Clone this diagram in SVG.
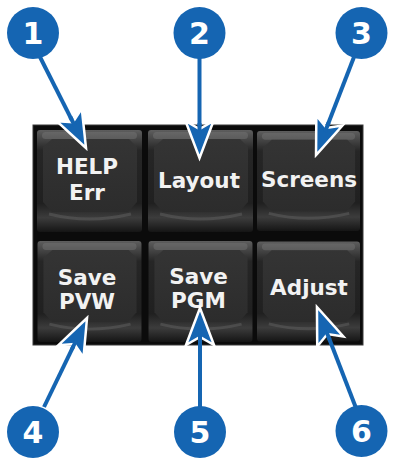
<svg xmlns="http://www.w3.org/2000/svg" width="394" height="465" viewBox="0 0 394 465">
<style>
.lbl{font-family:"DejaVu Sans","Liberation Sans",sans-serif;font-weight:bold;font-size:21.5px;fill:#f2f2f2;text-anchor:middle}
.num{font-family:"DejaVu Sans","Liberation Sans",sans-serif;font-weight:bold;font-size:30px;fill:#ffffff;text-anchor:middle}
.callout{fill:#1565b2}
.conn{stroke:#1565b2;stroke-width:4;fill:none;marker-end:url(#ah)}
</style>
<defs>
<linearGradient id="kOuter" x1="0" y1="0" x2="0" y2="1">
<stop offset="0" stop-color="#5e5e5e"/>
<stop offset="0.08" stop-color="#484848"/>
<stop offset="0.2" stop-color="#262626"/>
<stop offset="0.72" stop-color="#202020"/>
<stop offset="0.86" stop-color="#3c3c3c"/>
<stop offset="1" stop-color="#151515"/>
</linearGradient>
<linearGradient id="kFace" x1="0" y1="0" x2="0" y2="1">
<stop offset="0" stop-color="#343434"/>
<stop offset="1" stop-color="#2c2c2c"/>
</linearGradient>
<symbol id="keycap" viewBox="0 0 105 102">
<rect x="0" y="0" width="105" height="102" rx="3" fill="url(#kOuter)"/>
<rect x="5" y="2" width="95" height="7" rx="3.5" fill="#777" opacity="0.45"/>
<path d="M15,9 H92 L100,17 V72 L91,82 H15 L6,72 V17 Z" fill="url(#kFace)"/>
<path d="M12,84 Q52,94 94,84" stroke="#5a5a5a" stroke-width="3" fill="none" opacity="0.6"/>
</symbol>
<marker id="ah" markerUnits="userSpaceOnUse" viewBox="-12 -18 46 36" markerWidth="46" markerHeight="36" refX="0" refY="0" orient="auto" overflow="visible">
<path d="M29,0 L-8,-14 L0,0 L-8,14 Z" fill="#1565b2" stroke="#ffffff" stroke-width="2.5" stroke-linejoin="miter"/>
<rect x="-6" y="-2" width="10" height="4" fill="#1565b2"/>
</marker>
</defs>

<g id="panel">
<rect x="33" y="125" width="330" height="220" fill="#0b0b0b" stroke="#3a3a3a" stroke-width="1"/>
</g>

<g id="key-help">
<use href="#keycap" x="37" y="129" width="105" height="104"/>
<text class="lbl" x="87" y="174">HELP</text>
<text class="lbl" x="87" y="200">Err</text>
</g>
<g id="key-layout">
<use href="#keycap" x="148" y="129" width="105" height="104"/>
<text class="lbl" x="199" y="188">Layout</text>
</g>
<g id="key-screens">
<use href="#keycap" x="257" y="129" width="103" height="104"/>
<text class="lbl" x="309" y="187">Screens</text>
</g>
<g id="key-savepvw">
<use href="#keycap" x="37" y="241" width="105" height="101"/>
<text class="lbl" x="87" y="285">Save</text>
<text class="lbl" x="87" y="309">PVW</text>
</g>
<g id="key-savepgm">
<use href="#keycap" x="148" y="241" width="105" height="101"/>
<text class="lbl" x="198.5" y="284">Save</text>
<text class="lbl" x="198.5" y="308">PGM</text>
</g>
<g id="key-adjust">
<use href="#keycap" x="257" y="241" width="103" height="101"/>
<text class="lbl" x="309" y="295">Adjust</text>
</g>

<g id="connectors">
<path class="conn" d="M40,57 L72.9,122.1"/>
<path class="conn" d="M199.5,58 L199.5,129"/>
<path class="conn" d="M354,57 L326.5,128"/>
<path class="conn" d="M44,407 L74.4,344.1"/>
<path class="conn" d="M200,407 L200,337"/>
<path class="conn" d="M356,408 L327.4,334"/>
</g>

<g id="callout-1"><circle class="callout" cx="33" cy="33" r="26"/><text class="num" x="33" y="44">1</text></g>
<g id="callout-2"><circle class="callout" cx="199.5" cy="33" r="26"/><text class="num" x="199.5" y="44">2</text></g>
<g id="callout-3"><circle class="callout" cx="361.5" cy="33" r="26"/><text class="num" x="361.5" y="44">3</text></g>
<g id="callout-4"><circle class="callout" cx="33" cy="432" r="26"/><text class="num" x="33" y="443">4</text></g>
<g id="callout-5"><circle class="callout" cx="200" cy="432" r="26"/><text class="num" x="200" y="443">5</text></g>
<g id="callout-6"><circle class="callout" cx="361.5" cy="431" r="26"/><text class="num" x="361.5" y="442">6</text></g>
</svg>
